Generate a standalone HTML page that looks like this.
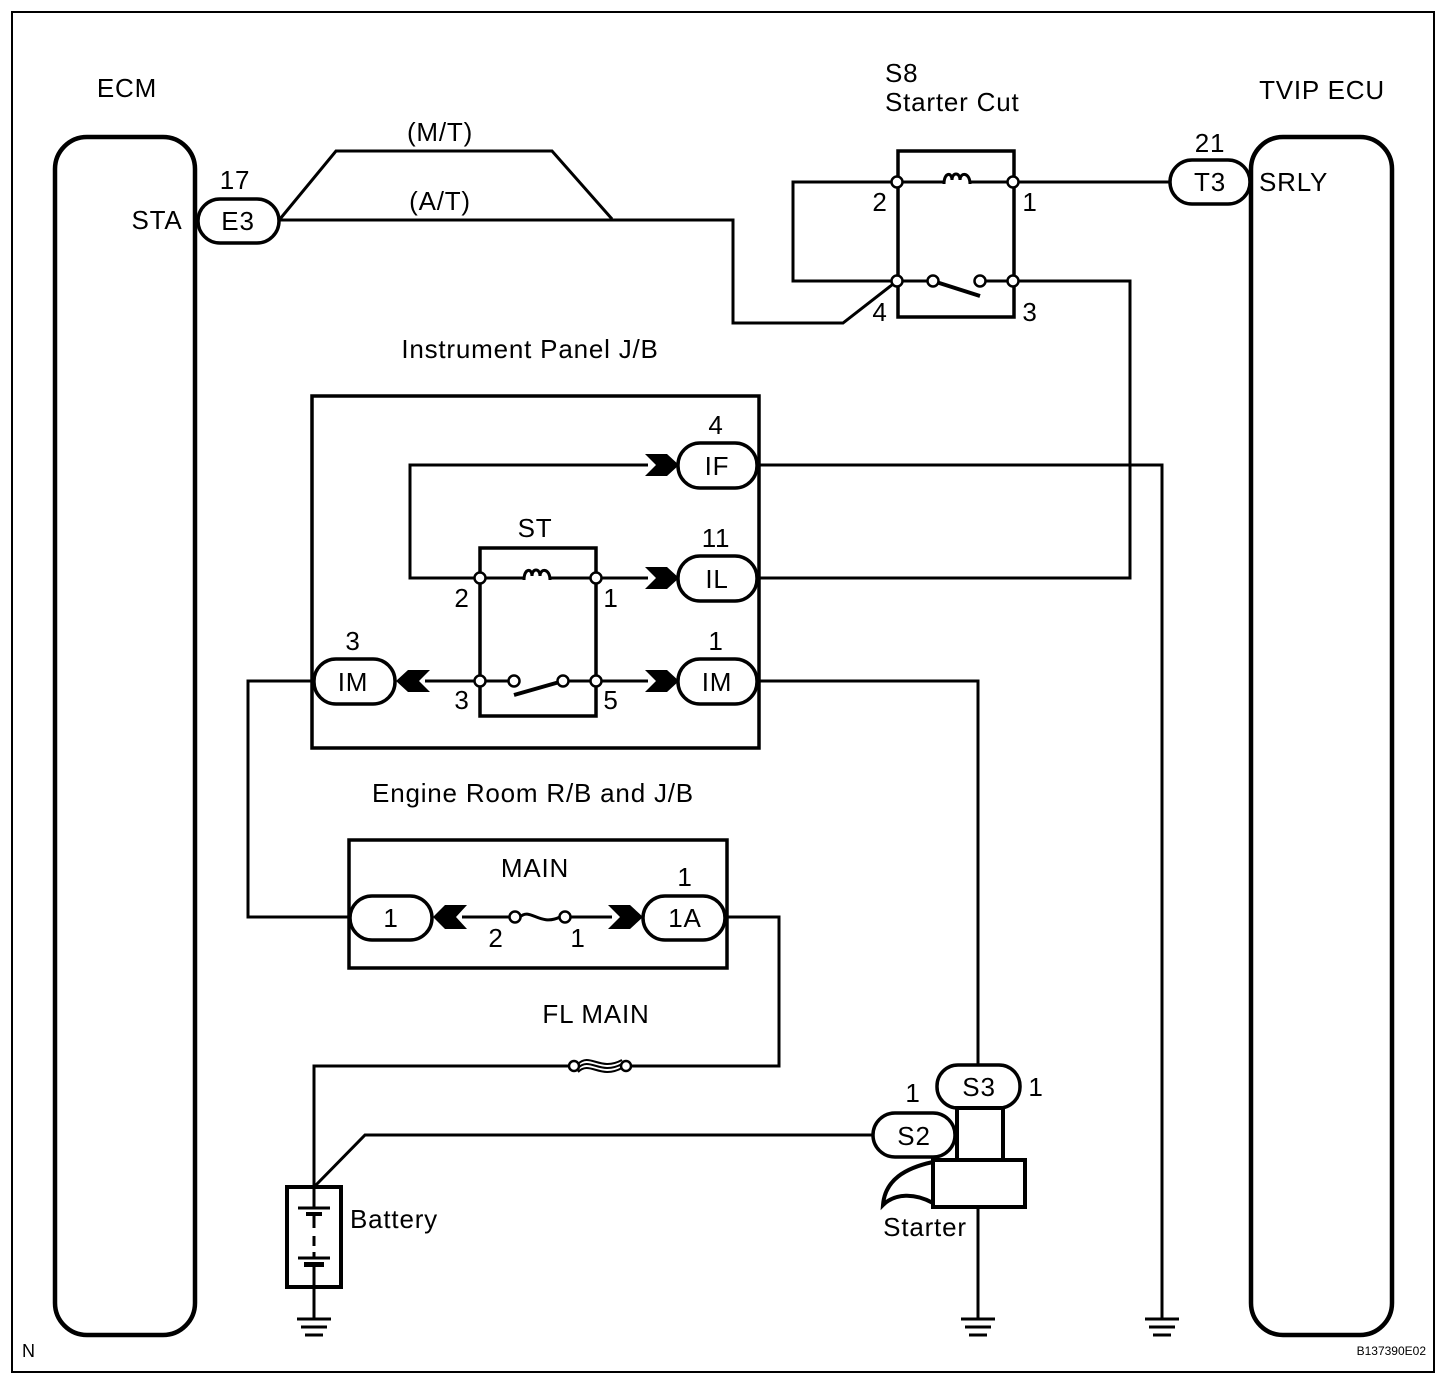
<!DOCTYPE html>
<html><head><meta charset="utf-8"><style>
html,body{margin:0;padding:0;background:#fff}
svg{display:block}
text{font-family:"Liberation Sans",Arial,sans-serif;fill:#000}
</style></head><body>
<svg width="1456" height="1382" viewBox="0 0 1456 1382" xmlns="http://www.w3.org/2000/svg">
<rect x="0" y="0" width="1456" height="1382" fill="#fff"/>
<rect x="12" y="12" width="1422" height="1360" fill="none" stroke="#000" stroke-width="2"/>
<g fill="none" stroke="#000">
<rect x="55" y="137" width="140" height="1198" rx="32" stroke-width="4.5"/>
<rect x="1251" y="137" width="141" height="1198" rx="32" stroke-width="4.5"/>
<g stroke-width="3">
<polyline points="279,220 733,220 733,323 843,323 897,281"/>
<polyline points="280,219 336,151 552,151 612,219"/>
<polyline points="897,182 793,182 793,281 897,281"/>
<line x1="1013" y1="182" x2="1170" y2="182"/>
<polyline points="1013,281 1130,281 1130,578 757,578"/>
<polyline points="757,465 1162,465 1162,1318"/>
<polyline points="480,578 410,578 410,465 648,465"/>
<line x1="596" y1="578" x2="648" y2="578"/>
<line x1="596" y1="681" x2="648" y2="681"/>
<line x1="425" y1="681" x2="480" y2="681"/>
<polyline points="757,681 978,681 978,1065"/>
<polyline points="313,681 248,681 248,917 350,917"/>
<line x1="462" y1="917" x2="515" y2="917"/>
<line x1="565" y1="917" x2="612" y2="917"/>
<polyline points="725,917 779,917 779,1066 628,1066"/>
<polyline points="572,1066 314,1066 314,1187"/>
<polyline points="314,1187 365,1135 873,1135"/>
<line x1="978" y1="1207" x2="978" y2="1318"/>
<line x1="314" y1="1287" x2="314" y2="1318"/>
<line x1="897" y1="182" x2="944" y2="182"/>
<line x1="970" y1="182" x2="1013" y2="182"/>
<line x1="897" y1="281" x2="933" y2="281"/>
<line x1="980" y1="281" x2="1013" y2="281"/>
<line x1="480" y1="578" x2="524" y2="578"/>
<line x1="550" y1="578" x2="596" y2="578"/>
<line x1="480" y1="681" x2="514" y2="681"/>
<line x1="563" y1="681" x2="596" y2="681"/>
</g>
<g stroke-width="4">
<line x1="933" y1="281" x2="980" y2="296"/>
<line x1="514" y1="695" x2="563" y2="681"/>
</g>
<path d="M944,184 C944,172 952,172 952,180 C952,172 960,172 960,180 C960,172 970,172 970,184" stroke-width="3"/>
<path d="M524,580 C524,568 532,568 532,576 C532,568 540,568 540,576 C540,568 550,568 550,580" stroke-width="3"/>
<rect x="898" y="151" width="116" height="166" stroke-width="3.5"/>
<rect x="480" y="548" width="116" height="168" stroke-width="3.5"/>
<rect x="312" y="396" width="447" height="352" stroke-width="3.5"/>
<rect x="349" y="840" width="378" height="128" stroke-width="3.5"/>
<path d="M520,917 C530,907 540,927 560,917" stroke-width="3"/>
<path d="M578,1068 C590,1056 600,1076 622,1064 M578,1064 C590,1052 600,1072 622,1060 M578,1072 C590,1060 600,1080 622,1068" stroke-width="2"/>
<g stroke-width="3.5" fill="#fff">
<rect x="198" y="199" width="81" height="44" rx="22"/>
<rect x="1170" y="160" width="80" height="44" rx="22"/>
<rect x="678" y="443" width="79" height="45" rx="22"/>
<rect x="678" y="556" width="79" height="45" rx="22"/>
<rect x="678" y="659" width="79" height="45" rx="22"/>
<rect x="314" y="659" width="81" height="45" rx="22"/>
<rect x="350" y="896" width="82" height="44" rx="22"/>
<rect x="643" y="896" width="82" height="44" rx="22"/>
<rect x="937" y="1065" width="83" height="43" rx="21"/>
<rect x="873" y="1113" width="82" height="44" rx="22"/>
</g>
<g stroke-width="2.5" fill="#fff">
<circle cx="897" cy="182" r="5.5"/><circle cx="1013" cy="182" r="5.5"/>
<circle cx="897" cy="281" r="5.5"/><circle cx="1013" cy="281" r="5.5"/>
<circle cx="933" cy="281" r="5.5"/><circle cx="980" cy="281" r="5.5"/>
<circle cx="480" cy="578" r="5.5"/><circle cx="596" cy="578" r="5.5"/>
<circle cx="480" cy="681" r="5.5"/><circle cx="596" cy="681" r="5.5"/>
<circle cx="514" cy="681" r="5.5"/><circle cx="563" cy="681" r="5.5"/>
<circle cx="515" cy="917" r="5.5"/><circle cx="565" cy="917" r="5.5"/>
<circle cx="574" cy="1066" r="5"/><circle cx="626" cy="1066" r="5"/>
</g>
<g stroke-width="4">
<rect x="957" y="1108" width="46" height="52"/>
<rect x="933" y="1160" width="92" height="47" fill="#fff"/>
<path d="M933,1162 C905,1168 885,1180 883,1205 C895,1193 915,1193 933,1203"/>
</g>
<rect x="287" y="1187" width="54" height="100" stroke-width="4"/>
<g stroke-width="3">
<line x1="314" y1="1187" x2="314" y2="1208"/>
<line x1="298" y1="1208" x2="330" y2="1208"/>
<line x1="314" y1="1214" x2="314" y2="1228"/>
<line x1="314" y1="1236" x2="314" y2="1246"/>
<line x1="314" y1="1252" x2="314" y2="1258"/>
<line x1="298" y1="1258" x2="330" y2="1258"/>
<line x1="314" y1="1266" x2="314" y2="1287"/>
</g>
<rect x="306" y="1212" width="16" height="4" fill="#000" stroke="none"/>
<rect x="304" y="1262" width="20" height="5" fill="#000" stroke="none"/>
<g stroke-width="3">
<line x1="297" y1="1319" x2="331" y2="1319"/><line x1="301" y1="1327" x2="327" y2="1327"/><line x1="305" y1="1335" x2="323" y2="1335"/>
<line x1="961" y1="1319" x2="995" y2="1319"/><line x1="965" y1="1327" x2="991" y2="1327"/><line x1="969" y1="1335" x2="987" y2="1335"/>
<line x1="1145" y1="1319" x2="1179" y2="1319"/><line x1="1149" y1="1327" x2="1175" y2="1327"/><line x1="1153" y1="1335" x2="1171" y2="1335"/>
</g>
</g>
<g fill="#000">
<polygon points="645,454 667,454 679,465 667,476 645,476 656,465"/>
<polygon points="645,567 667,567 679,578 667,589 645,589 656,578"/>
<polygon points="645,670 667,670 679,681 667,692 645,692 656,681"/>
<polygon points="608,905 630,905 643,917 630,929 608,929 620,917"/>
<polygon points="430,670 408,670 396,681 408,692 430,692 419,681"/>
<polygon points="467,905 445,905 433,917 445,929 467,929 456,917"/>
</g>
<g font-size="26" letter-spacing="0.8">
<text x="127" y="97" text-anchor="middle">ECM</text>
<text x="1322" y="99" text-anchor="middle">TVIP ECU</text>
<text x="885" y="82">S8</text>
<text x="885" y="111">Starter Cut</text>
<text x="157" y="229" text-anchor="middle">STA</text>
<text x="235" y="189" text-anchor="middle">17</text>
<text x="238" y="230" text-anchor="middle">E3</text>
<text x="440" y="141" text-anchor="middle">(M/T)</text>
<text x="440" y="210" text-anchor="middle">(A/T)</text>
<text x="1210" y="152" text-anchor="middle">21</text>
<text x="1210" y="191" text-anchor="middle">T3</text>
<text x="1259" y="191">SRLY</text>
<text x="880" y="211" text-anchor="middle">2</text>
<text x="1030" y="211" text-anchor="middle">1</text>
<text x="880" y="321" text-anchor="middle">4</text>
<text x="1030" y="321" text-anchor="middle">3</text>
<text x="530" y="358" text-anchor="middle">Instrument Panel J/B</text>
<text x="716" y="434" text-anchor="middle">4</text>
<text x="717" y="475" text-anchor="middle">IF</text>
<text x="535" y="537" text-anchor="middle">ST</text>
<text x="716" y="547" text-anchor="middle">11</text>
<text x="717" y="588" text-anchor="middle">IL</text>
<text x="716" y="650" text-anchor="middle">1</text>
<text x="717" y="691" text-anchor="middle">IM</text>
<text x="353" y="650" text-anchor="middle">3</text>
<text x="353" y="691" text-anchor="middle">IM</text>
<text x="462" y="607" text-anchor="middle">2</text>
<text x="611" y="607" text-anchor="middle">1</text>
<text x="462" y="709" text-anchor="middle">3</text>
<text x="611" y="709" text-anchor="middle">5</text>
<text x="533" y="802" text-anchor="middle">Engine Room R/B and J/B</text>
<text x="535" y="877" text-anchor="middle">MAIN</text>
<text x="685" y="886" text-anchor="middle">1</text>
<text x="391" y="927" text-anchor="middle">1</text>
<text x="685" y="927" text-anchor="middle">1A</text>
<text x="496" y="947" text-anchor="middle">2</text>
<text x="578" y="947" text-anchor="middle">1</text>
<text x="596" y="1023" text-anchor="middle">FL MAIN</text>
<text x="913" y="1102" text-anchor="middle">1</text>
<text x="1036" y="1096" text-anchor="middle">1</text>
<text x="979" y="1096" text-anchor="middle">S3</text>
<text x="914" y="1145" text-anchor="middle">S2</text>
<text x="925" y="1236" text-anchor="middle">Starter</text>
<text x="350" y="1228">Battery</text>
</g>
<text x="22" y="1357" font-size="18">N</text>
<text x="1426" y="1355" font-size="12" text-anchor="end">B137390E02</text>
</svg>
</body></html>
